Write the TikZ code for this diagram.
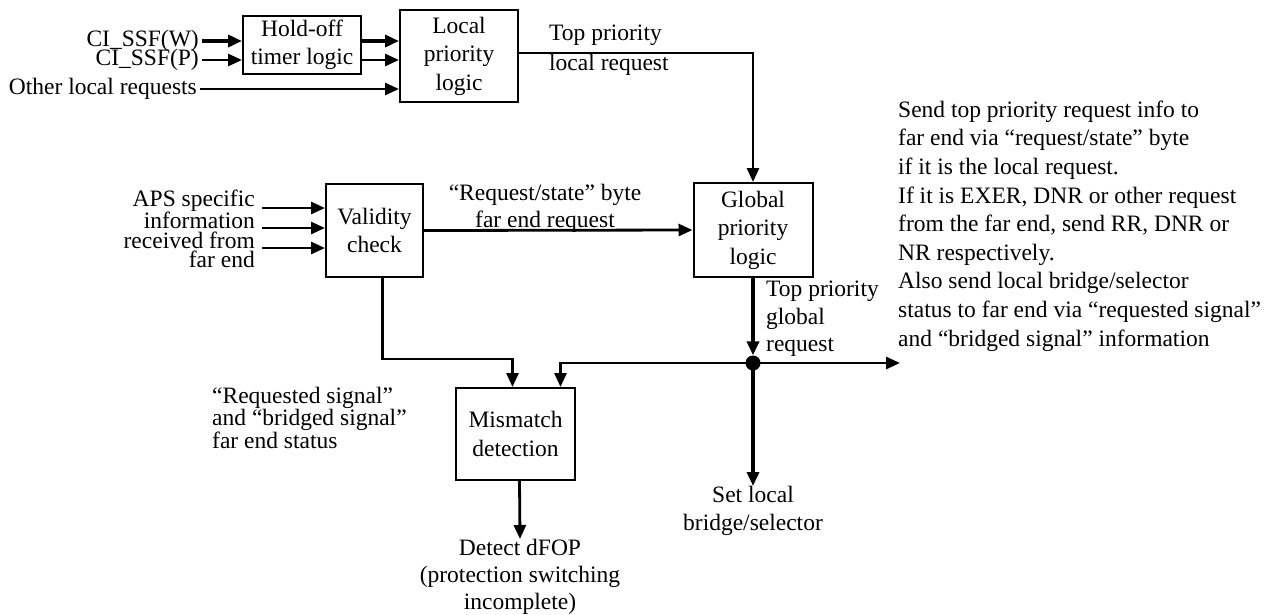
\documentclass[tikz,border=0pt]{standalone}
\usepackage{fontspec}
\setmainfont{Liberation Serif}
\usetikzlibrary{arrows.meta}
\newcommand\mainfs{\fontsize{23.5}{28.5}\selectfont}
\newcommand\tightfs{\fontsize{23.5}{19.5}\selectfont}
\newcommand\midfs{\fontsize{23.5}{27.5}\selectfont}
\begin{document}
\begin{tikzpicture}[x=1pt,y=-1pt,
  box/.style={draw,line width=2pt,inner sep=0pt,align=center,font=\mainfs},
  lbl/.style={inner sep=0pt,font=\midfs},
  tip/.style={-{Triangle[length=14pt,width=12pt]}},
  arr/.style={line width=2.8pt,tip},
  thickarr/.style={line width=4.8pt,tip}]
\useasboundingbox (0,0) rectangle (1269,614);

% processing blocks
\node[box,minimum width=118pt,minimum height=58pt] (hold) at (302,45) {Hold-off\\timer logic};
\node[box,minimum width=118pt,minimum height=92pt] (loc) at (459,56) {Local\\priority\\logic};
\node[box,minimum width=97pt,minimum height=93pt] (val) at (374.5,230.5) {Validity\\check};
\node[box,minimum width=119pt,minimum height=94pt] (glob) at (753,230) {Global\\priority\\logic};
\node[box,minimum width=119pt,minimum height=92pt] (mis) at (515.5,434) {Mismatch\\detection};
\node[circle,fill,inner sep=0pt,minimum size=15pt] (dot) at (753,363) {};

% input labels
\node[lbl,anchor=east] (ciW) at (199,41) {CI\_SSF(W)};
\node[lbl,anchor=east] (ciP) at (199,60) {CI\_SSF(P)};
\node[lbl,anchor=east] (other) at (197,89) {Other local requests};
\node[lbl,anchor=east,align=right,font=\tightfs] (aps) at (255,229) {APS specific\\information\\received from\\far end};
\coordinate (a1) at (262,208);
\coordinate (a2) at (262,228);
\coordinate (a3) at (262,248);

% connector labels
\node[lbl,anchor=west,align=left,font=\fontsize{23.5}{30}\selectfont] (tpl) at (549,50) {Top priority\\local request};
\node[lbl,align=center,font=\fontsize{23.5}{27}\selectfont] (rsb) at (545,208) {``Request/state'' byte\\far end request};
\node[lbl,anchor=west,align=left] (tpg) at (766,319) {Top priority\\global\\request};
\node[lbl,anchor=west,align=left,font=\fontsize{23.5}{20}\selectfont] (rqs) at (212,418) {``Requested signal''\\and ``bridged signal''\\far end status};
\node[lbl,anchor=west,align=left,font=\fontsize{23.5}{28.6}\selectfont] (send) at (898,226) {Send top priority request info to\\far end via ``request/state'' byte\\if it is the local request.\\If it is EXER, DNR or other request\\from the far end, send RR, DNR or\\NR respectively.\\Also send local bridge/selector\\status to far end via ``requested signal''\\and ``bridged signal'' information};

% outputs
\node[lbl,anchor=north,align=center] (setl) at (753,486) {Set local\\bridge/selector};
\node[lbl,anchor=north,align=center,font=\fontsize{23.5}{27}\selectfont] (det) at (520,539) {Detect dFOP\\(protection switching\\incomplete)};
\coordinate (far) at (900,363);

% connectors
\draw[thickarr] (ciW.east) ++(3pt,0) -- (ciW.east -| hold.west);
\draw[arr] (ciP.east) ++(3pt,0) -- (ciP.east -| hold.west);
\draw[thickarr] (ciW.east -| hold.east) -- (ciW.east -| loc.west);
\draw[arr] (ciP.east -| hold.east) -- (ciP.east -| loc.west);
\draw[arr] (other.east) ++(3pt,0) -- (other.east -| loc.west);
\draw[arr] ([yshift=3pt]loc.east) -| (glob.north);
\draw[arr] (a1) -- (a1 -| val.west);
\draw[arr] (a2) -- (a2 -| val.west);
\draw[arr] (a3) -- (a3 -| val.west);
\draw[arr] (val.east) -- (glob.west);
\draw[arr] ([xshift=8pt]val.south) -- ++(0,81) -| ([xshift=-3pt]mis.north);
\draw[thickarr] (glob.south) -- (dot.north);
\draw[thickarr] (dot.center) -- (setl.north);
\draw[arr] (dot.center) -- (far);
\draw[arr] (dot.center) -| ([xshift=45pt]mis.north);
\draw[arr] ([xshift=4pt]mis.south) -- (det.north);
\end{tikzpicture}
\end{document}
